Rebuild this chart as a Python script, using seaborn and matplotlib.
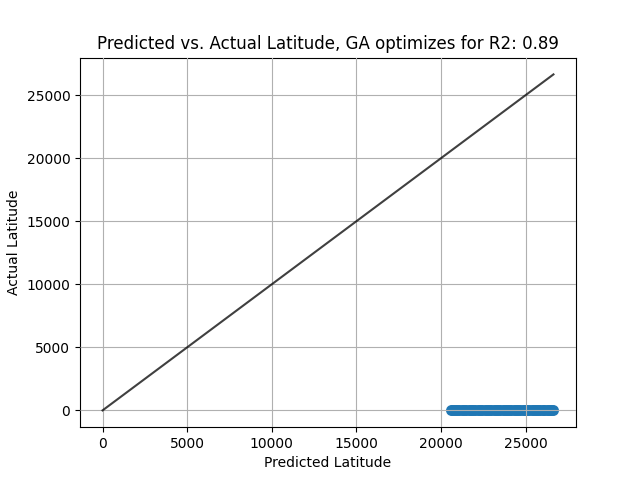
import matplotlib
matplotlib.use('Agg')
import matplotlib.pyplot as plt
import seaborn as sns

predicted = [20620, 20690, 20810, 20970, 21080, 21230, 21360, 21490, 21640, 21770,
             21880, 22030, 22170, 22290, 22420, 22580, 22700, 22830, 22960, 23110,
             23240, 23370, 23490, 23640, 23760, 23900, 24030, 24170, 24310, 24430,
             24560, 24700, 24840, 24960, 25090, 25230, 25370, 25490, 25620, 25760,
             25880, 26010, 26110, 26280, 26400, 26520, 26630]
actual = [30, 25, 35, 30, 28, 32, 30, 26, 34, 30,
          28, 33, 30, 27, 32, 30, 35, 28, 30, 26,
          32, 30, 29, 31, 27, 33, 30, 28, 34, 30,
          26, 32, 30, 29, 31, 28, 33, 30, 27, 31,
          30, 34, 28, 30, 26, 32, 30]

# identity line ends
line_x = [0, 26650]
line_y = [0, 26650]

fig, ax = plt.subplots(figsize=(6.4, 4.8), dpi=100)
sns.scatterplot(x=predicted, y=actual, ax=ax, s=62, color='#1f77b4', linewidth=0)
sns.lineplot(x=line_x, y=line_y, ax=ax, color='black', alpha=0.75, linewidth=1.5, zorder=3)

ax.set_title('Predicted vs. Actual Latitude, GA optimizes for R2: 0.89')
ax.set_xlabel('Predicted Latitude')
ax.set_ylabel('Actual Latitude')
ax.grid(True)
ax.set_axisbelow(False)

plt.savefig('out.png', dpi=100)
